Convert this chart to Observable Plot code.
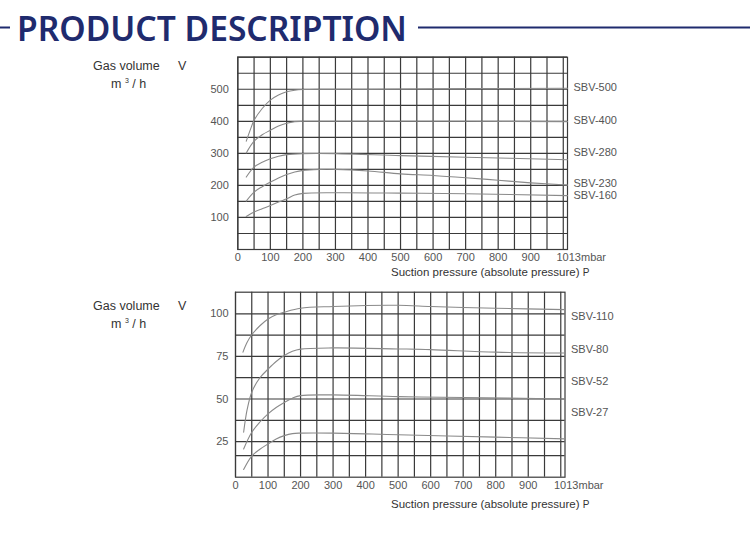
<!DOCTYPE html>
<html>
<head>
<meta charset="utf-8">
<script src="https://cdn.jsdelivr.net/npm/d3@7"></script>
<script src="https://cdn.jsdelivr.net/npm/@observablehq/plot@0.6"></script>
<style>
  body { margin:0; background:#fff; }
  #root { position:relative; width:750px; height:537px; background:#fff; overflow:hidden; }
  .lbl { position:absolute; font-family:"Liberation Sans", Arial, sans-serif; font-size:12.5px; color:#333; white-space:nowrap; line-height:1; }
  .xt { position:absolute; font-family:"Liberation Sans", Arial, sans-serif; font-size:11.5px; color:#333; white-space:nowrap; line-height:1; }
  .pl { position:absolute; left:0; }
</style>
</head>
<body>
<div id="root">
  <svg width="750" height="50" style="position:absolute;top:0;left:0">
    <line x1="0" x2="10" y1="27.5" y2="27.5" stroke="#1f2b6e" stroke-width="2"/>
    <text x="17" y="41" font-family="Noto Sans" font-weight="600" font-size="35" fill="#1f2b6e" textLength="390" lengthAdjust="spacingAndGlyphs">PRODUCT DESCRIPTION</text>
    <line x1="418" x2="750" y1="27.5" y2="27.5" stroke="#1f2b6e" stroke-width="2"/>
  </svg>
  <div class="lbl" style="top:60px;left:93px">Gas volume</div>
  <div class="lbl" style="top:60px;left:178px">V</div>
  <div class="lbl" style="top:77px;left:111px">m <sup style="font-size:7px">3</sup> / h</div>
  <div class="lbl" style="top:300px;left:93px">Gas volume</div>
  <div class="lbl" style="top:300px;left:178px">V</div>
  <div class="lbl" style="top:317px;left:111px">m <sup style="font-size:7px">3</sup> / h</div>
  <div class="xt" style="top:267px;left:391px">Suction pressure (absolute pressure) <span style="font-size:10px">P</span></div>
  <div class="xt" style="top:499px;left:391px">Suction pressure (absolute pressure) <span style="font-size:10px">P</span></div>
  <div id="c1" class="pl" style="top:40px"></div>
  <div id="c2" class="pl" style="top:285px"></div>
</div>
<script>
// ---- shared x axis (mbar) ----
const xTicks = [0, 100, 200, 300, 400, 500, 600, 700, 800, 900];
const xEnd = 1013;
const gridX = d3.range(0, 1001, 50);

// ---- top chart (m3/h) ----
const yTicksTop = [100, 200, 300, 400, 500];
const gridYTop = d3.range(0, 601, 50);
const sbv500 = [[26,338],[40,378],[50,403],[75,440],[100,466],[125,482],[150,492],[175,497],[200,499],[250,500],[400,500],[700,502],[1013,503]];
const sbv400 = [[26,301],[50,338],[75,358],[100,372],[125,385],[150,394],[175,399],[200,400],[400,400],[700,400],[1013,399]];
const sbv280 = [[26,226],[50,257],[75,272],[100,283],[125,291],[150,296],[200,299],[300,299],[500,293],[700,288],[1013,280]];
const sbv230 = [[26,151],[50,179],[75,196],[100,210],[125,223],[150,234],[175,242],[200,247],[250,250],[300,250],[400,245],[500,236],[600,231],[700,224],[800,216],[900,208],[1013,201]];
const sbv160 = [[26,103],[50,117],[75,127],[100,137],[125,148],[150,158],[175,170],[200,175],[300,177],[500,176],[700,174],[1013,168]];
const modelsTop = ["SBV-500", "SBV-400", "SBV-280", "SBV-230", "SBV-160"];
const seriesTop = [sbv500, sbv400, sbv280, sbv230, sbv160];
const labelYTop = [506, 403, 303, 206, 169];

// ---- bottom chart (m3/h) ----
const yTicksBot = [25, 50, 75, 100];
const gridYBot = [16.8, 25, 37.5, 50, 62.5, 75, 87.5, 100];
const sbv110 = [[23,77.5],[35,83],[50,87.7],[75,93],[100,97],[125,99.5],[150,101],[200,103.3],[300,104.3],[400,104.9],[500,105],[600,104.3],[700,103.7],[800,103.3],[1013,102.5]];
const sbv80 = [[25,30.5],[36,44],[50,54],[75,62.5],[100,67.5],[125,72],[150,75.5],[175,78],[200,79.3],[300,80],[500,79.4],[600,79],[800,77.5],[1013,77]];
const sbv52 = [[25,20.7],[50,30.5],[75,36.5],[100,41.3],[125,45],[150,48],[175,50.5],[200,52],[300,52.4],[500,51.4],[700,50.9],[1013,50]];
const sbv27 = [[25,8.6],[50,16.5],[75,20.5],[100,23.6],[125,26.5],[150,28.5],[175,29.7],[200,30],[300,30],[500,29],[800,27.6],[1013,26.6]];
const modelsBot = ["SBV-110", "SBV-80", "SBV-52", "SBV-27"];
const seriesBot = [sbv110, sbv80, sbv52, sbv27];
const labelYBot = [98.4, 79.1, 60.3, 42.2];

function rows(models, series) {
  return models.flatMap((m, i) => series[i].map(([p, v]) => ({model: m, p, v})));
}

function chart({models, series, labelY, yDomain, yTicks, gridY, height, mLeft, mRight, mTop, mBottom, yPad}) {
  const data = rows(models, series);
  const labels = models.map((m, i) => ({model: m, v: labelY[i]}));
  return Plot.plot({
    width: 750, height,
    marginLeft: mLeft, marginRight: mRight, marginTop: mTop, marginBottom: mBottom,
    x: {domain: [0, xEnd]},
    y: {domain: yDomain},
    style: {fontFamily: "Liberation Sans, Arial, sans-serif", fontSize: "11px", color: "#555", background: "transparent", overflow: "visible"},
    marks: [
      Plot.ruleX(gridX, {stroke: "#3a3a3a", strokeWidth: 1.2}),
      Plot.ruleY(gridY, {stroke: "#3a3a3a", strokeWidth: 1.2}),
      Plot.frame({stroke: "#3a3a3a", strokeWidth: 1.2}),
      Plot.line(data, {x: "p", y: "v", z: "model", curve: "catmull-rom", stroke: "#8a8a8a", strokeWidth: 1.1}),
      Plot.axisX(xTicks, {tickSize: 0, tickPadding: 4, label: null, fill: "#555"}),
      Plot.text([xEnd], {x: d => d, frameAnchor: "bottom", lineAnchor: "top", dy: 4, dx: -11, textAnchor: "start", text: () => "1013mbar", fill: "#555"}),
      Plot.axisY(yTicks, {tickSize: 0, tickPadding: yPad, label: null, fill: "#555"}),
      Plot.text(labels, {x: () => xEnd, y: "v", text: "model", dx: 6, textAnchor: "start", fill: "#555", fontSize: 11})
    ]
  });
}

document.getElementById("c1").append(chart({
  models: modelsTop, series: seriesTop, labelY: labelYTop,
  yDomain: [0, 600], yTicks: yTicksTop, gridY: gridYTop,
  height: 245, mLeft: 237.3, mRight: 183, mTop: 16.7, mBottom: 36, yPad: 9
}));
document.getElementById("c2").append(chart({
  models: modelsBot, series: seriesBot, labelY: labelYBot,
  yDomain: [4.1, 112.7], yTicks: yTicksBot, gridY: gridYBot,
  height: 252, mLeft: 235, mRight: 185.5, mTop: 6.7, mBottom: 60.3, yPad: 7
}));
</script>
</body>
</html>
